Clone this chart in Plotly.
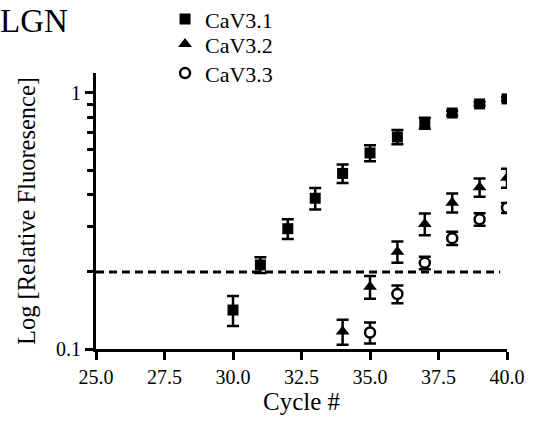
import plotly.graph_objects as go

cycles_31 = [30, 31, 32, 33, 34, 35, 36, 37, 38, 39, 40]
cav31 = [0.142, 0.213, 0.295, 0.388, 0.485, 0.583, 0.673, 0.763, 0.835, 0.906, 0.948]
cav31_err = [0.019, 0.015, 0.026, 0.037, 0.040, 0.042, 0.043, 0.038, 0.018, 0.015, 0.015]

cycles_32 = [34, 35, 36, 37, 38, 39, 40]
cav32 = [0.117, 0.175, 0.240, 0.308, 0.373, 0.428, 0.466]
cav32_err = [0.013, 0.018, 0.023, 0.030, 0.032, 0.035, 0.040]

cycles_33 = [35, 36, 37, 38, 39, 40]
cav33 = [0.116, 0.164, 0.217, 0.271, 0.321, 0.356]
cav33_err = [0.011, 0.013, 0.012, 0.016, 0.018, 0.016]

threshold_x = [25, 39.75]
threshold_y = [0.2, 0.2]

x_ticks = [25.0, 27.5, 30.0, 32.5, 35.0, 37.5, 40.0]
x_ticklabels = ["25.0", "27.5", "30.0", "32.5", "35.0", "37.5", "40.0"]
y_ticks = [0.1, 1]
y_ticklabels = ["0.1", "1"]
y_minor = [0.2, 0.3, 0.4, 0.5, 0.6, 0.7, 0.8, 0.9]

FONT = "Liberation Serif"

fig = go.Figure()

fig.add_trace(go.Scatter(
    x=threshold_x, y=threshold_y, mode="lines",
    line=dict(color="black", width=3, dash="8px,5px"),
    showlegend=False, hoverinfo="skip"))

err_style = dict(type="data", thickness=2.5, width=6, color="black")

fig.add_trace(go.Scatter(
    x=cycles_31, y=cav31, mode="markers", name="CaV3.1", legend="legend",
    marker=dict(symbol="square", size=11, color="black"),
    error_y=dict(array=cav31_err, **err_style)))

fig.add_trace(go.Scatter(
    x=cycles_32, y=cav32, mode="markers", name="CaV3.2", legend="legend2",
    marker=dict(symbol="triangle-up", size=12, color="black"),
    error_y=dict(array=cav32_err, **err_style)))

fig.add_trace(go.Scatter(
    x=cycles_33, y=cav33, mode="markers", name="CaV3.3", legend="legend3",
    marker=dict(symbol="circle", size=10, color="white",
                line=dict(color="black", width=2.5)),
    error_y=dict(array=cav33_err, **err_style)))

leg_common = dict(x=0.168, xanchor="left", yanchor="top",
                  font=dict(family=FONT, size=22, color="black"),
                  bgcolor="rgba(0,0,0,0)")

fig.update_layout(
    width=537, height=423,
    margin=dict(l=96, r=30, t=73, b=74, autoexpand=False),
    paper_bgcolor="white", plot_bgcolor="white",
    font=dict(family=FONT, color="black", size=20),
    legend=dict(y=1.271, **leg_common),
    legend2=dict(y=1.18, **leg_common),
    legend3=dict(y=1.075, **leg_common),
    annotations=[dict(text="LGN", x=-0.238, y=1.19, xref="paper", yref="paper",
                      xanchor="left", yanchor="middle", showarrow=False,
                      font=dict(family=FONT, size=33, color="black"))],
)

fig.update_xaxes(
    range=[25, 40], tickvals=x_ticks, ticktext=x_ticklabels,
    showline=True, linecolor="black", linewidth=3,
    ticks="outside", ticklen=8, tickwidth=3, tickcolor="black",
    showgrid=False, zeroline=False,
    tickfont=dict(family=FONT, size=20, color="black"),
    title=dict(text="Cycle #", font=dict(family=FONT, size=25, color="black"), standoff=6),
)

fig.update_yaxes(
    type="log", range=[-1, 0.078], tickvals=y_ticks, ticktext=y_ticklabels,
    showline=True, linecolor="black", linewidth=3,
    ticks="outside", ticklen=8, tickwidth=3, tickcolor="black",
    showgrid=False, zeroline=False,
    tickfont=dict(family=FONT, size=20, color="black"),
    minor=dict(tickvals=y_minor, ticks="outside", ticklen=6, tickwidth=3,
               tickcolor="black", showgrid=False),
    title=dict(text="Log [Relative Fluoresence]",
               font=dict(family=FONT, size=24.5, color="black"), standoff=14),
)

fig.write_html("out.html")
